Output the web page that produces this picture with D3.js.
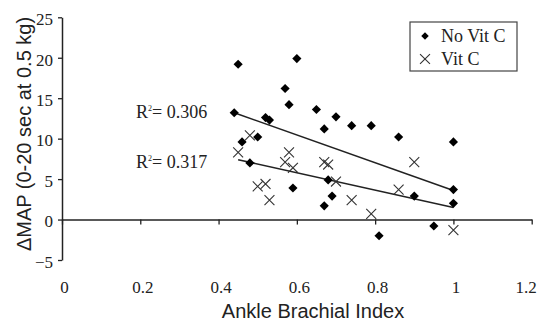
<!DOCTYPE html>
<html>
<head>
<meta charset="utf-8">
<script src="https://cdn.jsdelivr.net/npm/d3@7"></script>
<style>
  html, body { margin: 0; padding: 0; background: #fff; }
  svg { display: block; }
  .serif { font-family: 'Liberation Serif', 'Times New Roman', serif; fill: #222; }
  .sans { font-family: 'Liberation Sans', Arial, sans-serif; fill: #222; }
</style>
</head>
<body>
<div id="chart"></div>
<script>
// ankle brachial index vs change in MAP
const noVitCAbi = [0.44, 0.45, 0.46, 0.48, 0.50, 0.52, 0.53, 0.57, 0.58, 0.59, 0.60, 0.65, 0.67,
  0.70, 0.74, 0.79, 0.86, 0.67, 0.68, 0.69, 0.81, 0.90, 0.95, 1.00, 1.00, 1.00];
const noVitCMap = [13.2, 19.2, 9.6, 7.0, 10.2, 12.6, 12.3, 16.2, 14.2, 3.9, 19.9, 13.6, 11.2,
  12.7, 11.6, 11.6, 10.2, 1.7, 4.9, 2.9, -2.0, 2.9, -0.8, 9.6, 3.7, 2.0];

const vitCAbi = [0.45, 0.48, 0.50, 0.52, 0.53, 0.58, 0.57, 0.59, 0.67, 0.68, 0.70, 0.74,
  0.79, 0.86, 0.90, 1.00];
const vitCMap = [8.3, 10.4, 4.1, 4.4, 2.4, 8.3, 7.1, 6.4, 7.1, 6.8, 4.7, 2.4,
  0.7, 3.7, 7.1, -1.3];

// linear trendlines (start / end)
const noVitCTrendAbi = [0.44, 1.0];
const noVitCTrendMap = [13.2, 3.6];
const vitCTrendAbi = [0.45, 1.0];
const vitCTrendMap = [7.4, 1.5];

const r2Labels = ['0.306', '0.317'];
const r2Map = [12.6, 6.4];

const xTicks = [0, 0.2, 0.4, 0.6, 0.8, 1, 1.2];
const yTicks = [-5, 0, 5, 10, 15, 20, 25];
const seriesNames = ['No Vit C', 'Vit C'];

const width = 544;
const height = 322;

const svg = d3.select('#chart')
  .append('svg')
    .attr('width', width)
    .attr('height', height)
    .attr('viewBox', `0 0 ${width} ${height}`);

const x = d3.scaleLinear().domain([0, 1.2]).range([62, 531.7]);
const y = d3.scaleLinear().domain([-5, 25]).range([260, 17.3]);

const ink = '#222';

// y axis
const yAxis = svg.append('g')
  .attr('transform', `translate(${x(0)},0)`)
  .call(d3.axisLeft(y).tickValues(yTicks).tickSize(4).tickSizeOuter(0).tickPadding(5));
yAxis.select('.domain').attr('stroke', ink).attr('stroke-width', 1.5);
yAxis.selectAll('.tick line').attr('stroke', ink).attr('stroke-width', 1.3);
yAxis.selectAll('.tick text')
  .attr('class', 'serif')
  .attr('font-size', 17)
  .attr('dy', null)
  .attr('y', 7.3);

// x axis line at zero
const xAxis = svg.append('g')
  .attr('transform', `translate(0,${y(0)})`)
  .call(d3.axisBottom(x).tickValues(xTicks).tickSize(5).tickSizeOuter(0).tickFormat(''));
xAxis.select('.domain').attr('stroke', ink).attr('stroke-width', 1.5);
xAxis.selectAll('.tick line').attr('stroke', ink).attr('stroke-width', 1.3);

// x tick labels sit at the bottom of the plot
const xLabels = svg.append('g')
  .attr('transform', 'translate(2,293)')
  .call(d3.axisBottom(x).tickValues(xTicks).tickSize(0).tickPadding(0)
    .tickFormat(d => String(+d.toFixed(1))));
xLabels.select('.domain').remove();
xLabels.selectAll('.tick text')
  .attr('class', 'serif')
  .attr('font-size', 17)
  .attr('dy', null)
  .attr('y', 0)
  .attr('dx', (d, i) => (i === xTicks.length - 1 ? -8 : 0)); // last label pulled in, as excel does

// axis titles
svg.append('text')
  .attr('class', 'sans')
  .attr('font-size', 20)
  .attr('text-anchor', 'middle')
  .attr('x', 313)
  .attr('y', 318)
  .text('Ankle Brachial Index');

svg.append('text')
  .attr('class', 'sans')
  .attr('font-size', 20)
  .attr('text-anchor', 'middle')
  .attr('transform', 'translate(31,134) rotate(-90)')
  .text('\u0394MAP (0-20 sec at 0.5 kg)');

// trendlines
const line = d3.line().x(d => x(d[0])).y(d => y(d[1]));
[[noVitCTrendAbi, noVitCTrendMap], [vitCTrendAbi, vitCTrendMap]].forEach(([xs, ys]) => {
  svg.append('path')
    .datum(d3.zip(xs, ys))
    .attr('d', line)
    .attr('fill', 'none')
    .attr('stroke', ink)
    .attr('stroke-width', 1.6);
});

// markers
const diamond = d3.symbol(d3.symbolSquare, 42);
const cross = d3.symbol(d3.symbolTimes, 66);

svg.append('g')
  .selectAll('path')
  .data(d3.zip(noVitCAbi, noVitCMap))
  .join('path')
    .attr('d', diamond)
    .attr('transform', d => `translate(${x(d[0])},${y(d[1])}) rotate(45)`)
    .attr('fill', '#000');

svg.append('g')
  .selectAll('path')
  .data(d3.zip(vitCAbi, vitCMap))
  .join('path')
    .attr('d', cross)
    .attr('transform', d => `translate(${x(d[0])},${y(d[1])})`)
    .attr('fill', 'none')
    .attr('stroke', '#333')
    .attr('stroke-width', 1.1);

// R squared labels
r2Labels.forEach((v, i) => {
  const t = svg.append('text')
    .attr('class', 'serif')
    .attr('font-size', 18)
    .attr('x', 136)
    .attr('y', y(r2Map[i]));
  t.append('tspan').text('R');
  t.append('tspan').attr('font-size', 8).attr('dy', -7).text('2');
  t.append('tspan').attr('dy', 7).text('= ' + v);
});

// legend
const legend = svg.append('g').attr('transform', 'translate(410,22)');
legend.append('rect')
  .attr('width', 107)
  .attr('height', 49)
  .attr('fill', '#fff')
  .attr('stroke', '#444')
  .attr('stroke-width', 1.2);

legend.append('path')
  .attr('d', d3.symbol(d3.symbolSquare, 28))
  .attr('transform', 'translate(15,14) rotate(45)')
  .attr('fill', '#000');
legend.append('path')
  .attr('d', cross)
  .attr('transform', 'translate(15,37)')
  .attr('fill', 'none')
  .attr('stroke', '#333')
  .attr('stroke-width', 1.1);

seriesNames.forEach((name, i) => {
  legend.append('text')
    .attr('class', 'serif')
    .attr('font-size', 18)
    .attr('x', 31)
    .attr('y', 19.5 + i * 23.5)
    .text(name);
});
</script>
</body>
</html>
